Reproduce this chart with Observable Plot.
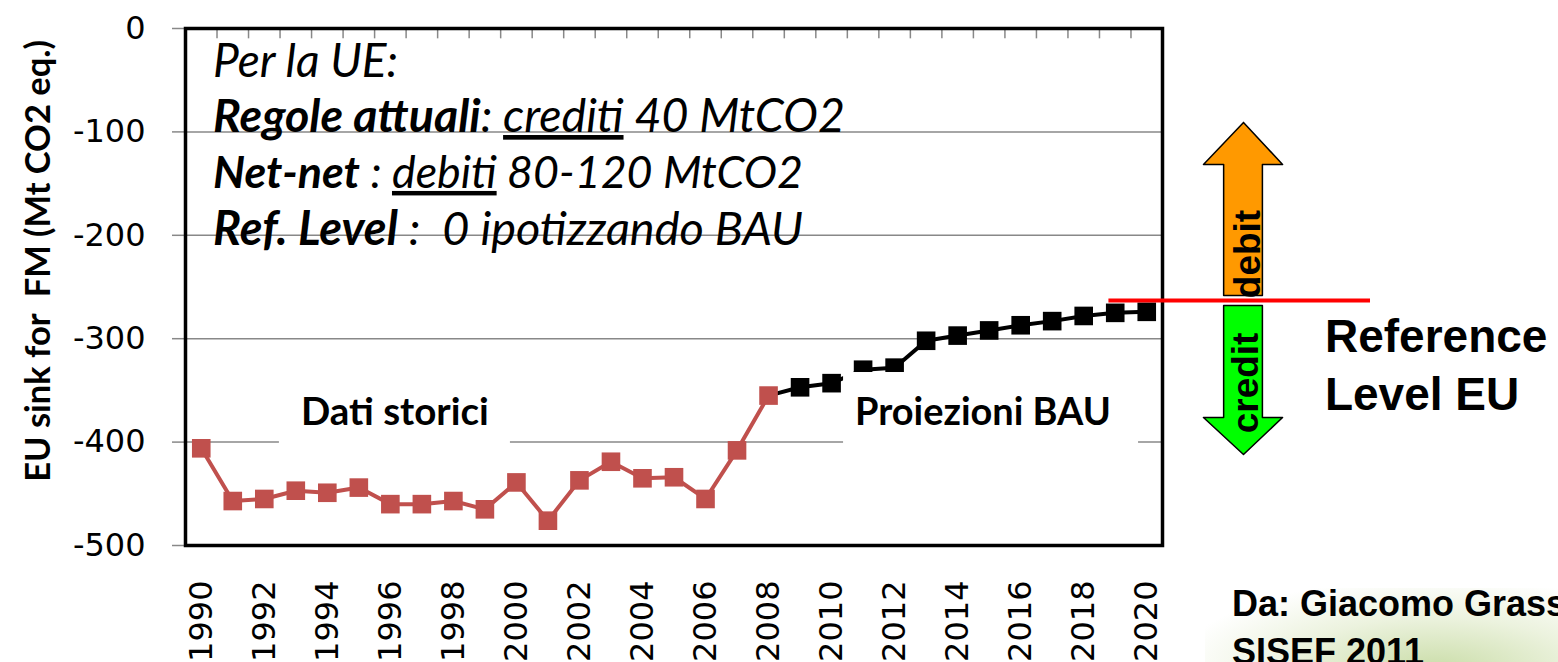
<!DOCTYPE html>
<html><head><meta charset="utf-8">
<script src="https://cdn.jsdelivr.net/npm/d3@7"></script>
<script src="https://cdn.jsdelivr.net/npm/@observablehq/plot@0.6"></script>
<style>
html,body{margin:0;padding:0;background:#fff;overflow:hidden;width:1558px;height:662px;}
#bg{position:absolute;left:1205px;top:588px;width:353px;height:74px;
background:radial-gradient(ellipse at 65% 110%, rgba(185,210,140,0.75), rgba(220,232,195,0.55) 45%, rgba(255,255,255,0) 80%);}
#chart{position:absolute;left:0;top:0;}
</style></head><body><div id="bg"></div><div id="chart"></div>
<script>
// ---------- data ----------
const histYears  = [1990,1991,1992,1993,1994,1995,1996,1997,1998,1999,2000,2001,2002,2003,2004,2005,2006,2007,2008];
const histValues = [-406,-457,-455,-447,-449,-444,-460,-460,-457,-465,-439,-476,-437,-419,-435,-434,-455,-408,-355];
const projYears  = [2008,2009,2010,2011,2012,2013,2014,2015,2016,2017,2018,2019,2020];
const projValues = [-355,-347,-343,-330,-328,-302,-297,-292,-287,-283,-278,-275,-274];
const allYears   = [1990,1991,1992,1993,1994,1995,1996,1997,1998,1999,2000,2001,2002,2003,2004,2005,2006,2007,2008,2009,2010,2011,2012,2013,2014,2015,2016,2017,2018,2019,2020];
const xTickLabels = [1990,1992,1994,1996,1998,2000,2002,2004,2006,2008,2010,2012,2014,2016,2018,2020];
const yTickValues = [0,-100,-200,-300,-400,-500];
const gridValues  = [-100,-200,-300,-400];
const refLevel = -263;
const yLabel = "EU sink for  FM (Mt CO2 eq.)";
// arrow outlines (data units)
const arrowDebitX  = [2023.07,2024.31,2023.67,2023.67,2022.44,2022.44,2021.80,2023.07];
const arrowDebitY  = [-90.9,-131.5,-131.5,-258.2,-258.2,-131.5,-131.5,-90.9];
const arrowCreditX = [2023.67,2023.67,2024.31,2023.07,2021.80,2022.44,2022.44,2023.67];
const arrowCreditY = [-267.9,-376.2,-376.2,-412.0,-376.2,-376.2,-267.9,-267.9];
// annotation text
const noteLines = [
  [{t:"Per la UE:"}],
  [{t:"Regole attuali", b:true},{t:": "},{t:"crediti", u:true},{t:" 40 MtCO2"}],
  [{t:"Net-net", b:true},{t:" : "},{t:"debiti", u:true},{t:" 80-120 MtCO2"}],
  [{t:"Ref. Level", b:true},{t:" :  0 ipotizzando BAU"}]
];
const noteBaselines = [-47.4,-100.6,-154.7,-209.9];
const noteWidths = [185,632,590,590];

const ptsHist = histYears.map((y,i)=>({year:y, value:histValues[i]}));
const ptsProj = projYears.map((y,i)=>({year:y, value:projValues[i]}));
const arrowDebit = arrowDebitX.map((x,i)=>({x, y:arrowDebitY[i]}));
const arrowCredit = arrowCreditX.map((x,i)=>({x, y:arrowCreditY[i]}));
const bandEdges = allYears.slice(0,-1).map(y=>y+0.5);

// ---------- text layer (custom render mark) ----------
function textLayer(index, scales) {
  const X = scales.x, Y = scales.y;
  const g = d3.create("svg:g").attr("fill","black").attr("text-anchor","start");
  noteLines.forEach((segs,i)=>{
    const t = g.append("text")
      .attr("x", X(1990.39)).attr("y", Y(noteBaselines[i]))
      .attr("text-anchor","start")
      .attr("font-family","Lato").attr("font-style","italic")
      .attr("font-size", 42).attr("data-fit", noteWidths[i]);
    segs.forEach(s=>{
      const ts = t.append("tspan").text(s.t);
      if (s.b) ts.attr("font-weight","bold");
      if (s.u) ts.attr("text-decoration","underline");
    });
  });
  const simple = (txt, x, y, o) => {
    const t = g.append("text").text(txt)
      .attr("font-family", o.family || "Liberation Sans")
      .attr("font-weight", o.weight || "bold")
      .attr("font-size", o.size)
      .attr("text-anchor", o.anchor || "start");
    if (o.rotate) {
      t.attr("transform", `translate(${X(x)},${Y(y)}) rotate(${o.rotate})`).attr("dy","0.35em");
    } else {
      t.attr("x", X(x)).attr("y", Y(y));
    }
    if (o.fit) t.attr("data-fit", o.fit);
    return t;
  };
  simple("Dati storici", 1996.16, -384, {family:"Lato", size:40, anchor:"middle", fit:188});
  simple("Proiezioni BAU", 2014.82, -384, {family:"Lato", size:40, anchor:"middle", fit:256});
  simple("debit", 2023.2, -218.6, {size:37, anchor:"middle", rotate:-90});
  simple("credit", 2023.13, -343.3, {size:37, anchor:"middle", rotate:-90});
  simple("Reference", 2025.67, -313.3, {size:46});
  simple("Level EU", 2025.67, -369.4, {size:46});
  simple("Da: Giacomo Grassi", 2022.72, -568.7, {size:36});
  simple("SISEF 2011", 2022.72, -615, {size:36});
  simple(yLabel, 1984.84, -225.3, {family:"Lato", size:28, anchor:"middle", rotate:-90, fit:442});
  return g.node();
}

const chart = Plot.plot({
  width: 1558, height: 662,
  marginLeft: 185, marginRight: 396, marginTop: 28, marginBottom: 117,
  style: {fontFamily: "DejaVu Sans", fontSize: "32px", color: "black", background: "transparent", overflow: "visible"},
  x: {type: "linear", domain: [1989.5, 2020.5], ticks: xTickLabels, tickFormat: d => String(d),
      tickRotate: -90, tickSize: 0, tickPadding: 35, label: null},
  y: {domain: [-500, 0], ticks: yTickValues, tickFormat: d => String(d), tickSize: 0, tickPadding: 40, label: null},
  marks: [
    Plot.ruleY(gridValues, {stroke: "#888", strokeWidth: 1.5}),
    Plot.ruleY(yTickValues, {x1: 1989.5 - 13/31.516, x2: 1989.5, stroke: "#888", strokeWidth: 1.5}),
    Plot.ruleX(bandEdges, {y1: 0, y2: -10, stroke: "#888", strokeWidth: 1.5}),
    Plot.line(ptsProj, {x: "year", y: "value", stroke: "black", strokeWidth: 4}),
    Plot.line(ptsHist, {x: "year", y: "value", stroke: "#C0504D", strokeWidth: 4}),
    Plot.dot(ptsHist, {x: "year", y: "value", symbol: "square", r: 10.5, fill: "#C0504D", stroke: "none"}),
    Plot.dot(ptsProj.slice(1), {x: "year", y: "value", symbol: "square", r: 10.5, fill: "black", stroke: "none"}),
    Plot.rect([{x1: 1992.48, x2: 1999.81, y1: -345, y2: -405}, {x1: 2010.38, x2: 2019.74, y1: -332.7, y2: -408}],
      {x1: "x1", x2: "x2", y1: "y1", y2: "y2", fill: "white"}),
    Plot.frame({stroke: "black", strokeWidth: 3.5}),
    Plot.line(arrowDebit, {x: "x", y: "y", fill: "#FF9900", stroke: "black", strokeWidth: 1.5, curve: "linear"}),
    Plot.line(arrowCredit, {x: "x", y: "y", fill: "#00FF00", stroke: "black", strokeWidth: 1.5, curve: "linear"}),
    Plot.ruleY([refLevel], {x1: 2018.8, x2: 2027.1, stroke: "#FF0000", strokeWidth: 4}),
    textLayer
  ]
});
document.getElementById("chart").append(chart);
// fit text widths
d3.select(chart).selectAll("text[data-fit]").each(function() {
  const target = +this.getAttribute("data-fit");
  const len = this.getComputedTextLength();
  const fs = +this.getAttribute("font-size");
  if (len > 0) this.setAttribute("font-size", (fs * target / len).toFixed(2));
});
</script>
</body></html>
